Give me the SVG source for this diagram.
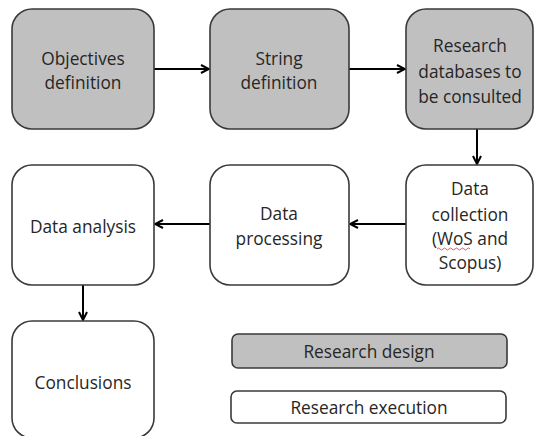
<svg xmlns="http://www.w3.org/2000/svg" width="535" height="436" viewBox="0 0 535 436">
<defs>
<style>
.box{stroke:#3a3a3a;stroke-width:1.6;}
.d{fill:#c0c0c0;}
.e{fill:#ffffff;}
text{font-family:"Open Sans","Noto Sans","Liberation Sans",sans-serif;font-size:17.3px;fill:#262626;text-anchor:middle;dominant-baseline:central;}
.c{stroke:#000;stroke-width:2;fill:none;marker-end:url(#ah);}
</style>
<marker id="ah" markerWidth="10" markerHeight="10" refX="9" refY="5" orient="auto" markerUnits="userSpaceOnUse">
<path d="M1,1 L9,5 L1,9" fill="none" stroke="#000" stroke-width="2"/>
</marker>
</defs>
<rect width="535" height="436" fill="#fff"/>
<g id="connectors">
<line class="c" x1="154" y1="69" x2="209" y2="69"/>
<line class="c" x1="349" y1="69" x2="405" y2="69"/>
<line class="c" x1="477" y1="129" x2="477" y2="164"/>
<line class="c" x1="406" y1="224" x2="350" y2="224"/>
<line class="c" x1="210" y1="224" x2="155" y2="224"/>
<line class="c" x1="83" y1="285" x2="83" y2="320"/>
</g>
<g id="objectives">
<rect class="box d" x="12" y="9" width="142" height="120" rx="20"/>
<text x="83" y="58">Objectives</text>
<text x="83" y="82">definition</text>
</g>
<g id="string">
<rect class="box d" x="210" y="9" width="139" height="120" rx="20"/>
<text x="279" y="58">String</text>
<text x="279" y="82">definition</text>
</g>
<g id="databases">
<rect class="box d" x="406" y="9" width="127" height="120" rx="20"/>
<text x="470" y="45">Research</text>
<text x="470" y="71">databases to</text>
<text x="470" y="96">be consulted</text>
</g>
<g id="analysis">
<rect class="box e" x="12" y="165" width="142" height="120" rx="20"/>
<text x="83" y="226">Data analysis</text>
</g>
<g id="processing">
<rect class="box e" x="210" y="165" width="139" height="120" rx="20"/>
<text x="279" y="213">Data</text>
<text x="279" y="238">processing</text>
</g>
<g id="collection">
<rect class="box e" x="406" y="165" width="127" height="120" rx="20"/>
<text x="470" y="188">Data</text>
<text x="470" y="214">collection</text>
<text x="470" y="238">(WoS and</text>
<text x="470" y="262">Scopus)</text>
<path d="M437,249 q1.5,-2 3,0 t3,0 t3,0 t3,0 t3,0 t3,0 t3,0 t3,0 t3,0 t3,0 t3,0" fill="none" stroke="#e03030" stroke-width="0.8"/>
</g>
<g id="conclusions">
<rect class="box e" x="12" y="321" width="142" height="117" rx="20"/>
<text x="83" y="382">Conclusions</text>
</g>
<g id="legend-design">
<rect class="box d" x="232" y="334" width="275" height="34" rx="6"/>
<text x="369" y="351">Research design</text>
</g>
<g id="legend-execution">
<rect class="box e" x="231" y="391" width="275" height="32" rx="6"/>
<text x="369" y="407">Research execution</text>
</g>
</svg>
